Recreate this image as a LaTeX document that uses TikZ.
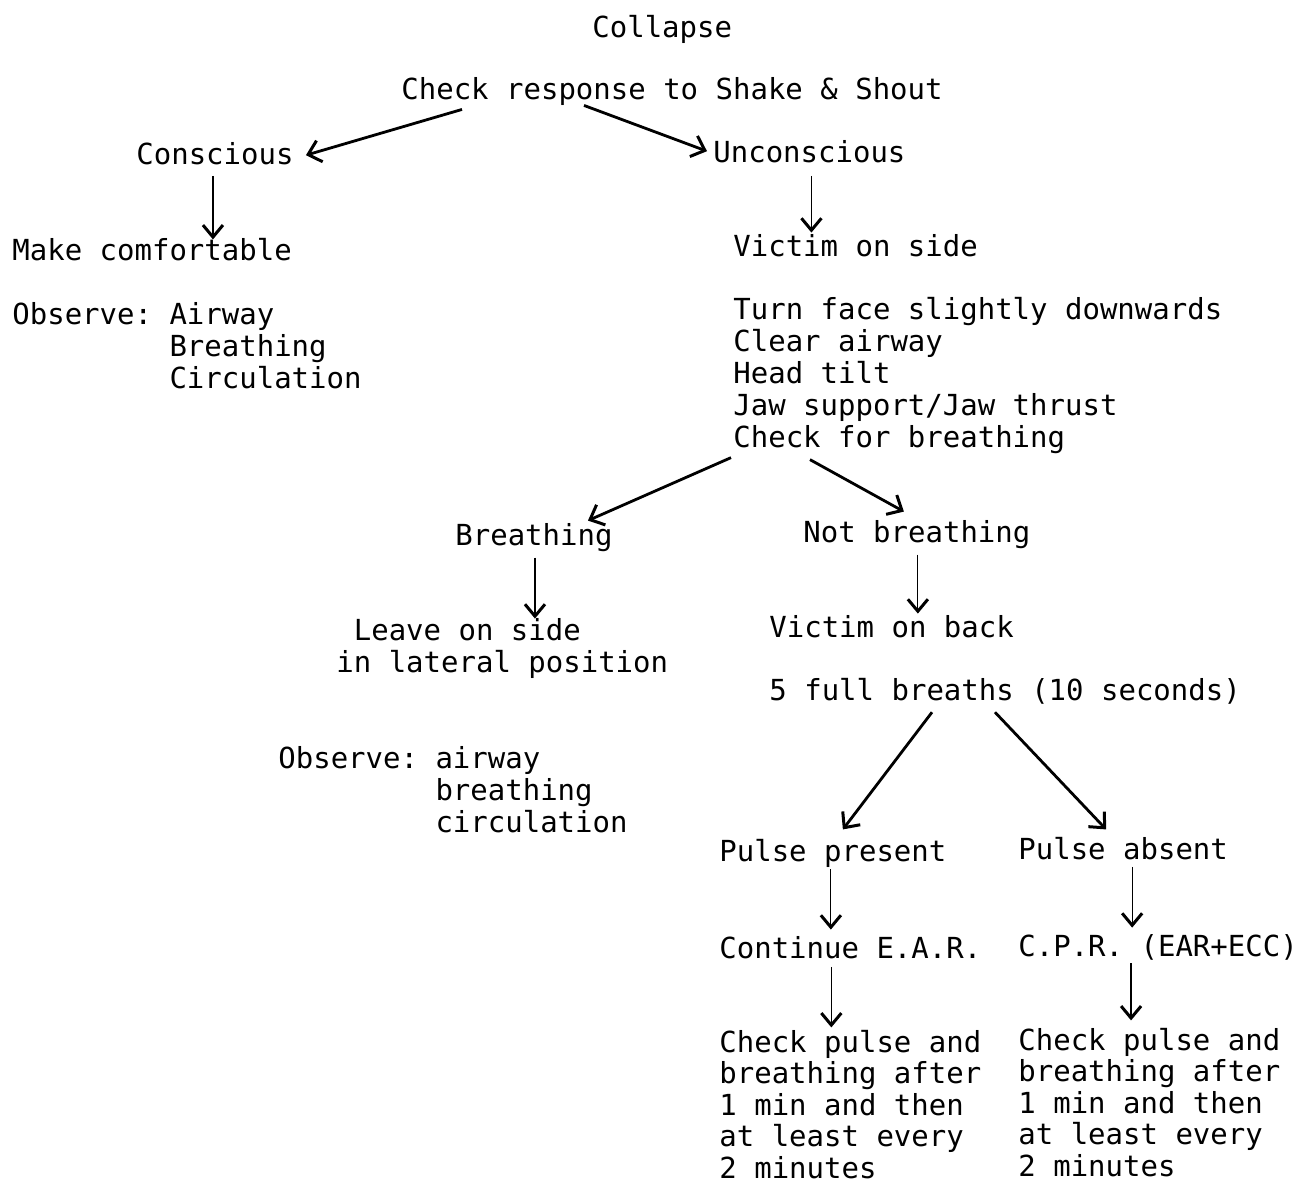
\documentclass[tikz,border=0pt]{standalone}
\usepackage{fontspec}
\setmonofont{DejaVu Sans Mono}
\usetikzlibrary{arrows.meta,calc}
\newcommand{\obsgap}{\hphantom{Observe: }}

\begin{document}
\begin{tikzpicture}[x=0.5pt,y=-0.5pt]
    \tikzstyle{txt} = [anchor=base west, inner sep=0pt, align=left, font=\ttfamily\fontsize{14.5}{16}\selectfont]
    \tikzstyle{fork} = [line width=1.4pt, -{Straight Barb[length=6pt,width=11pt,line width=1.5pt]}]
    \tikzstyle{down} = [line width=0.6pt, -{Straight Barb[length=6pt,width=10pt,line width=1.5pt]}]

    \useasboundingbox (0,0) rectangle (1298,1184);

    % multi-line texts sit on the baseline of their last line
    \node (collapse) [txt] at (592,37) {Collapse};
    \node (check) [txt] at (401,99) {Check response to Shake \& Shout};
    \node (conscious) [txt] at (136,164) {Conscious};
    \node (unconscious) [txt] at (713,162) {Unconscious};
    \node (comfort) [txt] at (12,260) {Make comfortable};
    \node (observe) [txt] at (12,388) {Observe: Airway\\\obsgap Breathing\\\obsgap Circulation};
    \node (side) [txt] at (733,256) {Victim on side};
    \node (actions) [txt] at (733,447) {Turn face slightly downwards\\Clear airway\\Head tilt\\Jaw support/Jaw thrust\\Check for breathing};
    \node (breathing) [txt] at (455,545) {Breathing};
    \node (notbreathing) [txt] at (803,542) {Not breathing};
    \node (leave) [txt] at (336,672) {\hphantom{L}Leave on side\\in lateral position};
    \node (observelow) [txt] at (278,832) {Observe: airway\\\obsgap breathing\\\obsgap circulation};
    \node (back) [txt] at (769,637) {Victim on back};
    \node (breaths) [txt] at (769,700) {5 full breaths (10 seconds)};
    \node (present) [txt] at (719,861) {Pulse present};
    \node (absent) [txt] at (1018,859) {Pulse absent};
    \node (continue) [txt] at (719,958) {Continue E.A.R.};
    \node (cpr) [txt] at (1018,956) {C.P.R. (EAR+ECC)};
    \node (recheckl) [txt, font=\ttfamily\fontsize{14.5}{15.75}\selectfont] at (719,1178) {Check pulse and\\breathing after\\1 min and then\\at least every\\2 minutes};
    \node (recheckr) [txt, font=\ttfamily\fontsize{14.5}{15.75}\selectfont] at (1018,1176) {Check pulse and\\breathing after\\1 min and then\\at least every\\2 minutes};

    \draw [fork] ($(check.south west)+(61,4)$) -- ($(conscious.east)+(12,2)$);
    \draw [fork] ($(check.south west)+(183,0)$) -- ($(unconscious.west)+(-6,0)$);
    \draw [down] ($(conscious.south)+(-2,11)$) -- ($(comfort.north -| conscious.south)+(-2,2)$);
    \draw [down] ($(unconscious.south)+(2,13)$) -- ($(side.north -| unconscious.south)+(2,-1)$);
    \draw [fork] ($(actions.south west)+(-2,4)$) -- ($(breathing.north)+(54,-2)$);
    \draw [fork] ($(actions.south west)+(77,6)$) -- ($(notbreathing.north)+(-13,-8)$);
    \draw [down] ($(breathing.south)+(1,6)$) -- ($(leave.north -| breathing.south)+(1,1)$);
    \draw [down] ($(notbreathing.south)+(1,6)$) -- ($(back.north -| notbreathing.south)+(1,-1)$);
    \draw [fork] ($(breaths.south west)+(163,8)$) -- ($(present.north)+(10,-9)$);
    \draw [fork] ($(breaths.south west)+(226,8)$) -- ($(absent.north)+(-17,-7)$);
    \draw [down] ($(present.south)+(-2,2)$) -- ($(continue.north -| present.south)+(-2,-6)$);
    \draw [down] ($(continue.south)+(-19,8)$) -- ($(recheckl.north -| continue.south)+(-19,-2)$);
    \draw [down] ($(absent.south)+(9,7)$) -- ($(cpr.north -| absent.south)+(9,-6)$);
    \draw [down] ($(cpr.south)+(-27,3)$) -- ($(recheckr.north -| cpr.south)+(-27,-7)$);
\end{tikzpicture}
\end{document}
